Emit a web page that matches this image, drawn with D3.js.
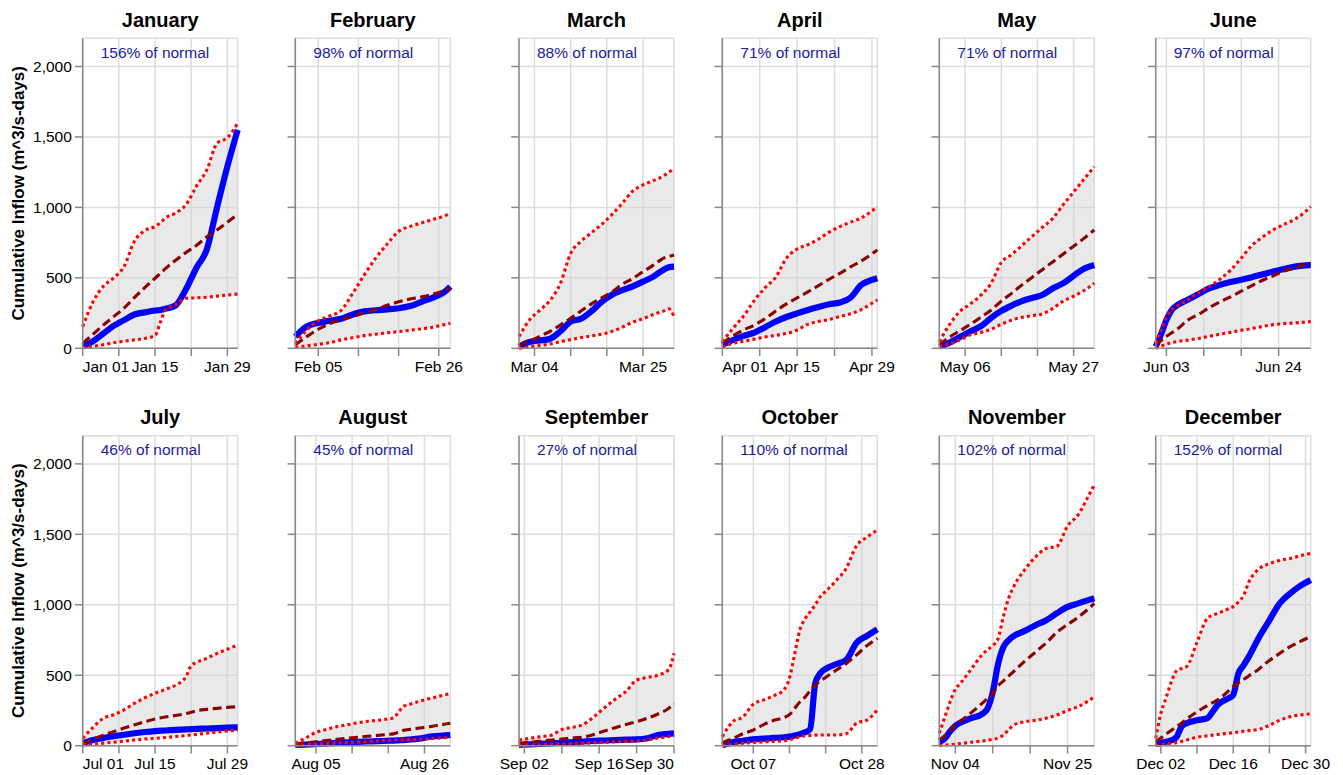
<!DOCTYPE html>
<html><head><meta charset="utf-8">
<script src="https://cdn.jsdelivr.net/npm/d3@7"></script>
<style>
body{margin:0;background:#fff}
svg{display:block}
text{font-family:"Liberation Sans",Arial,Helvetica,sans-serif}
</style>
</head><body>
<svg id="chart" width="1343" height="775"></svg>
<script>
// ---------------- DATA ----------------
const YEAR = 2012;
const monthNames = ["January","February","March","April","May","June","July","August","September","October","November","December"];
const pctLabels = ["156% of normal","98% of normal","88% of normal","71% of normal","71% of normal","97% of normal","46% of normal","45% of normal","27% of normal","110% of normal","102% of normal","152% of normal"];
const lastDays = [31,28,31,30,31,30,31,31,30,31,30,31];
const yTickValues = [0,500,1000,1500,2000];
const yMax = 2200;
const yTitle = "Cumulative Inflow (m^3/s-days)";

const janDays    = [1,3,5,7,9,11,13,15,16,17,19,21,23,25,27,29,31];
const janUpper   = [154,330,440,500,580,760,835,865,890,925,960,1020,1150,1265,1455,1495,1597];
const janMedian  = [35,100,165,225,285,360,430,497,530,565,625,680,730,790,840,895,951];
const janLower   = [5,15,25,40,50,60,70,90,180,270,310,355,358,362,370,378,385];
const janCurrent = [12,50,105,160,200,240,255,268,272,280,305,420,570,700,1000,1290,1550];

const febDays    = [1,3,5,7,9,11,13,15,17,19,21,23,25,27,28];
const febUpper   = [35,130,195,230,270,390,520,640,740,830,865,890,915,940,958];
const febMedian  = [24,83,135,175,205,225,252,275,305,330,350,365,385,410,426];
const febLower   = [7,17,28,40,60,75,90,100,110,118,128,138,150,168,177];
const febCurrent = [83,155,180,196,210,240,262,270,276,284,300,330,360,400,438];

const marDays    = [1,3,5,7,9,11,13,15,17,19,21,23,25,27,29,30,31];
const marUpper   = [83,200,270,340,460,674,760,820,880,950,1030,1115,1160,1190,1225,1250,1277];
const marMedian  = [24,50,85,120,165,213,265,315,358,400,455,495,544,590,640,652,662];
const marLower   = [0,10,20,30,47,62,76,88,100,120,150,185,210,240,265,280,225];
const marCurrent = [12,45,55,68,120,189,210,262,330,380,412,440,473,509,558,575,580];

const aprDays    = [1,3,5,7,9,11,13,15,17,19,21,23,25,27,29,30];
const aprUpper   = [47,142,230,340,430,505,640,705,735,775,825,864,895,925,975,1005];
const aprMedian  = [35,88,130,165,210,265,315,358,400,445,490,532,578,620,670,698];
const aprLower   = [12,35,50,65,80,92,105,130,170,190,205,225,245,275,320,343];
const aprCurrent = [24,59,88,112,150,190,222,248,272,293,312,325,360,450,485,497];

const mayDays    = [1,3,5,7,9,11,13,15,17,19,21,23,25,27,29,31];
const mayUpper   = [47,170,262,315,375,460,610,665,730,795,860,923,1020,1110,1200,1289];
const mayMedian  = [24,80,125,170,220,270,335,390,450,505,560,615,670,725,780,840];
const mayLower   = [12,30,60,95,112,135,170,200,220,232,245,284,335,370,410,461];
const mayCurrent = [12,40,80,120,155,215,265,303,335,358,380,426,462,515,565,591];

const junDays    = [1,2,3,4,5,7,9,11,13,15,17,19,21,23,25,27,29,30];
const junUpper   = [35,130,220,272,300,345,395,437,490,555,640,730,790,840,880,915,970,1005];
const junMedian  = [24,55,85,110,135,200,240,288,330,365,405,445,483,515,548,570,595,603];
const junLower   = [0,15,30,40,48,58,70,85,100,113,128,140,155,168,175,180,186,189];
const junCurrent = [12,100,200,272,305,345,385,425,450,470,487,505,525,545,563,580,588,591];

const julDays    = [1,3,5,7,9,11,13,15,17,19,21,22,23,25,27,29,31];
const julUpper   = [52,130,195,220,255,300,340,372,400,430,490,570,590,620,655,685,714];
const julMedian  = [17,45,75,100,125,148,170,190,203,215,228,238,248,258,265,272,277];
const julLower   = [5,10,18,25,32,40,47,52,58,65,72,76,80,88,97,105,111];
const julCurrent = [17,40,55,67,78,88,97,104,108,112,116,118,119,122,125,128,130];

const augDays    = [1,3,5,7,9,11,13,15,17,19,20,21,22,23,25,27,29,31];
const augUpper   = [17,55,95,115,135,148,162,173,180,190,196,240,280,292,315,335,352,371];
const augMedian  = [12,20,28,37,45,52,60,67,73,80,84,95,110,115,125,135,147,159];
const augLower   = [2,5,10,15,19,22,26,30,34,38,40,41,42,43,45,50,55,59];
const augCurrent = [5,8,12,16,20,23,27,30,32,35,36,38,40,43,50,64,70,76];

const sepDays    = [1,3,5,7,9,11,13,15,17,19,21,23,25,27,29,30];
const sepUpper   = [40,52,64,74,115,130,150,205,270,330,385,466,485,500,540,655];
const sepMedian  = [17,24,32,40,47,55,62,80,105,128,150,170,195,225,265,300];
const sepLower   = [2,5,7,10,12,15,18,21,24,28,31,35,40,55,65,76];
const sepCurrent = [5,9,13,17,21,25,30,34,37,40,43,45,53,76,84,88];

const octDays    = [1,3,5,7,9,11,13,14,15,16,17,18,19,20,21,23,25,27,29,31];
const octUpper   = [64,170,205,295,325,355,400,480,650,820,900,950,1000,1060,1095,1170,1260,1420,1480,1531];
const octMedian  = [21,50,85,111,150,180,200,220,265,310,345,390,430,460,485,535,584,645,710,762];
const octLower   = [2,8,18,23,27,31,36,42,52,62,70,73,75,76,76,76,85,160,182,253];
const octCurrent = [2,25,35,45,50,55,60,64,72,82,95,118,445,515,545,578,610,730,780,826];

const novDays    = [1,2,3,4,5,7,9,10,11,12,13,14,15,17,19,21,23,25,27,29,30];
const novUpper   = [88,200,310,400,445,545,645,680,710,760,920,1050,1135,1250,1340,1400,1415,1560,1640,1780,1851];
const novMedian  = [40,70,100,150,175,235,300,335,370,425,460,495,530,600,665,730,805,860,912,975,1010];
const novLower   = [2,5,8,11,15,25,33,38,45,55,75,115,148,170,180,195,218,250,278,320,348];
const novCurrent = [28,50,100,140,165,195,225,262,380,580,700,750,780,815,855,890,940,985,1010,1035,1046];

const decDays    = [1,2,3,4,5,6,7,9,11,12,13,15,16,17,18,19,21,23,25,27,29,31];
const decUpper   = [52,230,340,450,530,548,562,735,905,925,940,970,987,1020,1065,1160,1255,1292,1315,1329,1348,1365];
const decMedian  = [28,55,82,108,135,160,190,240,285,305,325,385,420,445,470,495,545,605,655,703,740,774];
const decLower   = [2,8,14,18,22,30,40,60,70,75,80,88,92,97,102,107,116,145,180,206,218,225];
const decCurrent = [12,20,28,38,60,135,160,180,195,240,290,335,360,513,570,630,770,890,1010,1080,1135,1176];

const monthDays    = [janDays,febDays,marDays,aprDays,mayDays,junDays,julDays,augDays,sepDays,octDays,novDays,decDays];
const monthUpper   = [janUpper,febUpper,marUpper,aprUpper,mayUpper,junUpper,julUpper,augUpper,sepUpper,octUpper,novUpper,decUpper];
const monthMedian  = [janMedian,febMedian,marMedian,aprMedian,mayMedian,junMedian,julMedian,augMedian,sepMedian,octMedian,novMedian,decMedian];
const monthLower   = [janLower,febLower,marLower,aprLower,mayLower,junLower,julLower,augLower,sepLower,octLower,novLower,decLower];
const monthCurrent = [janCurrent,febCurrent,marCurrent,aprCurrent,mayCurrent,junCurrent,julCurrent,augCurrent,sepCurrent,octCurrent,novCurrent,decCurrent];

// ---------------- LAYOUT ----------------
const colLeft = [82.7, 295.3, 519, 722.3, 939.3, 1155.7];
const rowTop = [38.3, 435.7];
const W = 155, H = 310;
const TICK = 7.75, PAD = 3.1;
const labelFont = 15.5;

const svg = d3.select("#chart");
const fmtDate = d3.timeFormat("%b %d");
const fmtNum = d3.format(",");

monthNames.forEach((name, m) => {
  const col = m % 6, row = Math.floor(m / 6);
  const g = svg.append("g").attr("transform", `translate(${colLeft[col]},${rowTop[row]})`);

  const x = d3.scaleTime()
    .domain([new Date(YEAR, m, 1), new Date(YEAR, m, lastDays[m])])
    .range([0, W]);
  const y = d3.scaleLinear().domain([0, yMax]).range([H, 0]);

  const rows = monthDays[m].map((d, i) => ({
    date: new Date(YEAR, m, d),
    hi: monthUpper[m][i], med: monthMedian[m][i], lo: monthLower[m][i], cur: monthCurrent[m][i]
  }));

  const xTicks = x.ticks(d3.timeWeek);

  // grid
  g.append("g").selectAll("line.xg").data(xTicks).join("line")
    .attr("x1", d => x(d)).attr("x2", d => x(d)).attr("y1", 0).attr("y2", H)
    .attr("stroke", "#ddd").attr("stroke-width", 1.5);
  g.append("g").selectAll("line.yg").data(yTickValues).join("line")
    .attr("x1", 0).attr("x2", W).attr("y1", d => y(d)).attr("y2", d => y(d))
    .attr("stroke", "#ddd").attr("stroke-width", 1.5);
  g.append("rect").attr("x", 0).attr("y", 0).attr("width", W).attr("height", H)
    .attr("fill", "none").attr("stroke", "#ddd").attr("stroke-width", 1.5);

  // area band
  const area = d3.area().curve(d3.curveMonotoneX)
    .x(d => x(d.date)).y0(d => y(d.lo)).y1(d => y(d.hi));
  g.append("path").datum(rows).attr("d", area)
    .attr("fill", "#d3d3d3").attr("fill-opacity", 0.5);

  const line = key => d3.line().curve(d3.curveMonotoneX).x(d => x(d.date)).y(d => y(d[key]));

  g.append("path").datum(rows).attr("d", line("cur"))
    .attr("fill", "none").attr("stroke", "#0000ff").attr("stroke-width", 6.2)
    .attr("stroke-linejoin", "round");
  g.append("path").datum(rows).attr("d", line("med"))
    .attr("fill", "none").attr("stroke", "#8b0000").attr("stroke-width", 3.1)
    .attr("stroke-dasharray", "9,4.5");
  g.append("path").datum(rows).attr("d", line("hi"))
    .attr("fill", "none").attr("stroke", "#ff0000").attr("stroke-width", 3.1)
    .attr("stroke-dasharray", "3.1,3.1");
  g.append("path").datum(rows).attr("d", line("lo"))
    .attr("fill", "none").attr("stroke", "#ff0000").attr("stroke-width", 3.1)
    .attr("stroke-dasharray", "3.1,3.1");

  // axes: domain lines
  g.append("line").attr("x1", 0).attr("x2", 0).attr("y1", 0).attr("y2", H)
    .attr("stroke", "#888").attr("stroke-width", 1.5);
  g.append("line").attr("x1", 0).attr("x2", W).attr("y1", H).attr("y2", H)
    .attr("stroke", "#888").attr("stroke-width", 1.5);
  // y ticks
  g.append("g").selectAll("line").data(yTickValues).join("line")
    .attr("x1", -TICK).attr("x2", 0).attr("y1", d => y(d)).attr("y2", d => y(d))
    .attr("stroke", "#888").attr("stroke-width", 1.5);
  if (col === 0) {
    g.append("g").selectAll("text").data(yTickValues).join("text")
      .attr("x", -TICK - PAD).attr("y", d => y(d)).attr("dy", "0.35em")
      .attr("text-anchor", "end").attr("font-size", labelFont).attr("fill", "#000")
      .text(d => fmtNum(d));
    svg.append("text")
      .attr("transform", `translate(24,${rowTop[row] + H / 2}) rotate(-90)`)
      .attr("text-anchor", "middle").attr("font-size", 17).attr("font-weight", "bold")
      .attr("fill", "#000").text(yTitle);
  }
  // x ticks
  g.append("g").selectAll("line").data(xTicks).join("line")
    .attr("x1", d => x(d)).attr("x2", d => x(d)).attr("y1", H).attr("y2", H + TICK)
    .attr("stroke", "#888").attr("stroke-width", 1.5);
  const labels = g.append("g").selectAll("text").data(xTicks).join("text")
    .attr("x", d => x(d)).attr("y", H + 23.5)
    .attr("text-anchor", d => {
      const p = x(d);
      if (Math.abs(p) < 1) return "start";
      if (Math.abs(p - W) < 1) return "end";
      return "middle";
    })
    .attr("font-size", labelFont).attr("fill", "#000")
    .text(d => fmtDate(d));
  // label overlap removal (parity, like Vega)
  const source = labels.nodes().map(el => { const b = el.getBBox(); return {el, x1: b.x, x2: b.x + b.width, vis: true}; });
  const intersect = (a, b) => 0 > Math.max(b.x1 - a.x2, a.x1 - b.x2);
  const hasOverlap = items => items.some((it, i) => i > 0 && intersect(items[i - 1], it));
  let items = source.slice();
  if (items.length >= 3 && hasOverlap(items)) {
    do {
      items = items.filter((it, i) => { if (i % 2) { it.vis = false; return false; } return true; });
    } while (items.length >= 3 && hasOverlap(items));
    const last = source[source.length - 1];
    if (items.length < 3 && !last.vis) {
      if (items.length > 1) items[items.length - 1].vis = false;
      last.vis = true;
    }
  }
  source.forEach(s => { if (!s.vis) s.el.setAttribute("opacity", 0); });

  // titles
  g.append("text").attr("x", W / 2).attr("y", -11.7).attr("text-anchor", "middle")
    .attr("font-size", 20).attr("font-weight", "bold").attr("fill", "#000").text(name);
  g.append("text").attr("x", 18).attr("y", y(2100)).attr("dy", "0.35em")
    .attr("font-size", 15.5).attr("fill", "#1c1c9c").text(pctLabels[m]);
});
</script>
</body></html>
